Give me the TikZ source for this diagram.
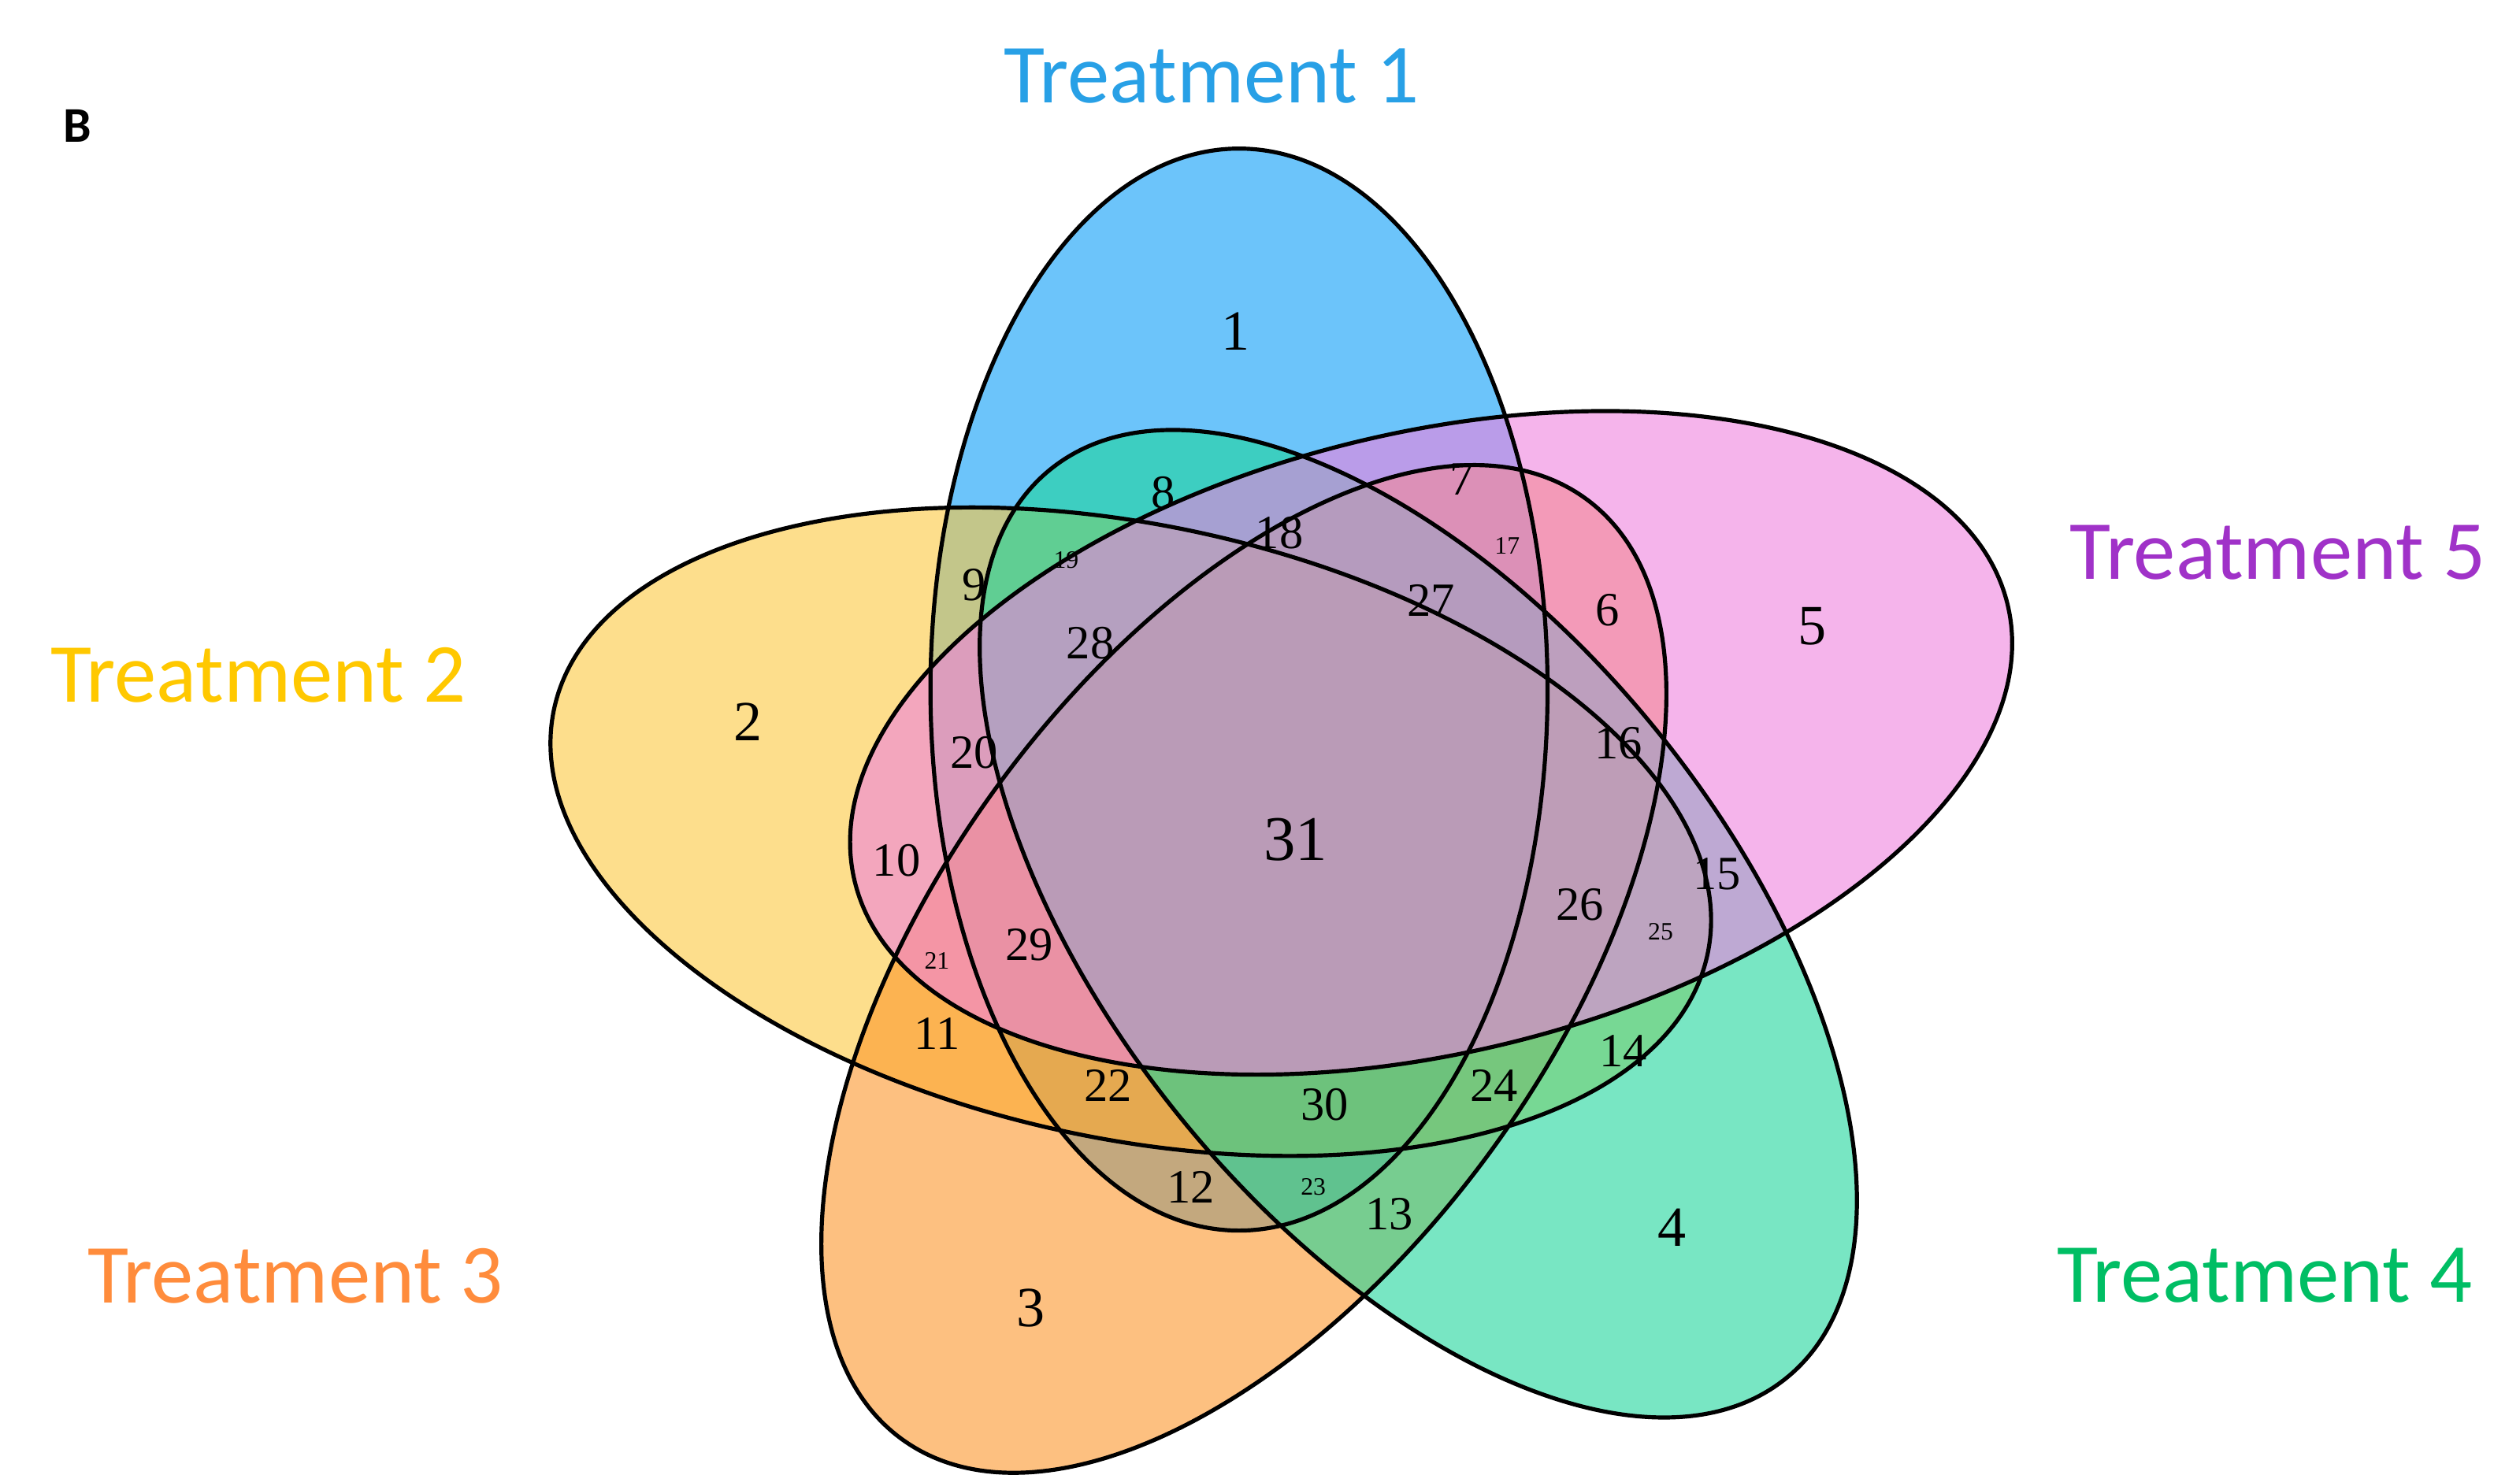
\documentclass[tikz,border=0pt]{standalone}
\usepackage{fontspec}
\setmainfont{Liberation Serif}
\newfontfamily\lab{Carlito}
\definecolor{cA}{RGB}{10,157,247}
\definecolor{cB}{RGB}{252,200,63}
\definecolor{cC}{RGB}{252,150,43}
\definecolor{cD}{RGB}{30,213,155}
\definecolor{cE}{RGB}{238,130,222}
\definecolor{tA}{RGB}{40,160,230}
\definecolor{tB}{RGB}{255,200,0}
\definecolor{tC}{RGB}{255,140,60}
\definecolor{tD}{RGB}{0,190,100}
\definecolor{tE}{RGB}{160,50,200}
\tikzset{
 set/.style={fill opacity=0.6},
 edge/.style={line width=3.6pt},
 tl/.style={font=\lab\fontsize{74}{86}\selectfont},
 big/.style={font=\fontsize{50}{54}\selectfont},
 num/.style={font=\fontsize{42}{46}\selectfont},
 sm/.style={font=\fontsize{22}{24}\selectfont},
}
\begin{document}
\begin{tikzpicture}[x=0.05cm,y=-0.05cm]
\useasboundingbox (0,0) rectangle (1560,913);
\coordinate (cA) at (767,427);
\coordinate (cB) at (700,515);
\coordinate (cC) at (770,600);
\coordinate (cD) at (878,572);
\coordinate (cE) at (886,460);
\fill[set,cA] (cA) ellipse [x radius=191,y radius=335];
\fill[set,cB,rotate around={-12:(cB)}] (cB) ellipse [x radius=365,y radius=190];
\fill[set,cC,rotate around={54:(cC)}] (cC) ellipse [x radius=360,y radius=190];
\fill[set,cD,rotate around={-51:(cD)}] (cD) ellipse [x radius=362,y radius=190];
\fill[set,cE,rotate around={13.5:(cE)}] (cE) ellipse [x radius=367,y radius=192];
\draw[edge] (cA) ellipse [x radius=191,y radius=335];
\draw[edge,rotate around={-12:(cB)}] (cB) ellipse [x radius=365,y radius=190];
\draw[edge,rotate around={54:(cC)}] (cC) ellipse [x radius=360,y radius=190];
\draw[edge,rotate around={-51:(cD)}] (cD) ellipse [x radius=362,y radius=190];
\draw[edge,rotate around={13.5:(cE)}] (cE) ellipse [x radius=367,y radius=192];
\node[tl,tA] (t1) at (750,47) {Treatment 1};
\node[tl,tB] (t2) at (160,418) {Treatment 2};
\node[tl,tC] (t3) at (183,790) {Treatment 3};
\node[tl,tD] (t4) at (1402,790) {Treatment 4};
\node[tl,tE] (t5) at (1410,342) {Treatment 5};
\node[font=\lab\bfseries\fontsize{44}{48}\selectfont] (B) at (48,78) {B};
\node[big] (n1) at (765,205) {1};
\node[big] (n2) at (463,447) {2};
\node[big] (n3) at (638,810) {3};
\node[big] (n4) at (1035,760) {4};
\node[big] (n5) at (1122,388) {5};
\node[num] (n6) at (995,378) {6};
\node[num] (n7) at (905,297) {7};
\node[num] (n8) at (720,305) {8};
\node[num] (n9) at (603,362) {9};
\node[num] (n10) at (555,533) {10};
\node[num] (n11) at (580,640) {11};
\node[num] (n12) at (737,735) {12};
\node[num] (n13) at (860,752) {13};
\node[num] (n14) at (1005,651) {14};
\node[num] (n15) at (1063,541) {15};
\node[num] (n16) at (1002,460) {16};
\node[sm] (n17) at (933,338) {17};
\node[num] (n18) at (792,330) {18};
\node[sm] (n19) at (660,347) {19};
\node[num] (n20) at (603,466) {20};
\node[sm] (n21) at (580,595) {21};
\node[num] (n22) at (686,672) {22};
\node[sm] (n23) at (813,735) {23};
\node[num] (n24) at (925,672) {24};
\node[sm] (n25) at (1028,577) {25};
\node[num] (n26) at (978,560) {26};
\node[num] (n27) at (886,372) {27};
\node[num] (n28) at (675,398) {28};
\node[num] (n29) at (637,585) {29};
\node[num] (n30) at (820,684) {30};
\node[font=\fontsize{56}{60}\selectfont] (n31) at (802,520) {31};
\end{tikzpicture}
\end{document}
